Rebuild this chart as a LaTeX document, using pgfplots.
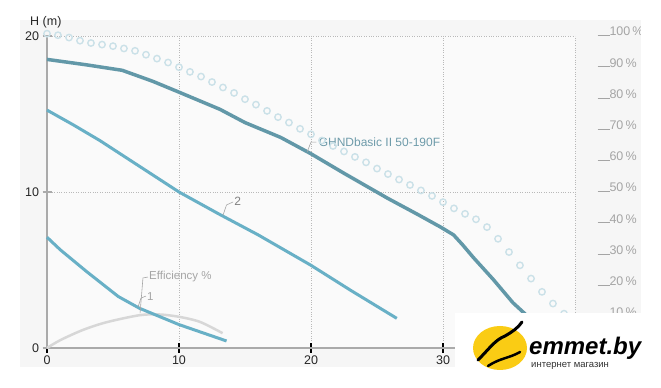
\documentclass[border=0pt]{standalone}
\usepackage{fontspec}
\setmainfont{Liberation Sans}
\usepackage{pgfplots}
\pgfplotsset{compat=1.18}
\definecolor{bgc}{RGB}{246,246,246}
\definecolor{mainc}{RGB}{98,152,168}
\definecolor{ctwo}{RGB}{104,176,198}
\definecolor{dotc}{RGB}{203,225,232}
\definecolor{effc}{RGB}{215,215,215}
\definecolor{axc}{RGB}{170,170,170}
\definecolor{gridc}{RGB}{185,185,185}
\definecolor{lblc}{RGB}{165,165,165}
\definecolor{annc}{RGB}{110,155,170}
\definecolor{logoy}{RGB}{250,204,20}

\begin{document}
\begin{tikzpicture}[x=1pt,y=1pt]
\useasboundingbox (0,0) rectangle (661,388);
\fill[bgc] (20,21) rectangle (642,368);
\fill[white!50!bgc] (47,40) rectangle (575,352);
\begin{axis}[at={(47pt,40pt)}, anchor=south west, scale only axis,
  width=528pt, height=312pt, xmin=0, xmax=40, ymin=0, ymax=20, clip=false,
  axis x line=bottom, axis y line=left, axis line style={-, axc, line width=1.6pt},
  xtick={0,10,20,30,40}, xticklabels={0,10,20,30,}, ytick={0,10,20},
  grid=major, grid style={gridc, dotted, line width=0.8pt},
  tick align=center, major tick length=9pt,
  xtick style={black, line width=1.5pt}, ytick style={axc, line width=1.5pt},
  tick label style={font=\fontsize{12.5}{14}\selectfont, text=black!85},
  /pgf/number format/assume math mode=true,
]
% efficiency dots (main curve)
\addplot[only marks, mark=o, mark size=3.2pt, mark options={draw=dotc, line width=1.4pt}] coordinates {
(0,20.15) (0.83,20.05) (1.67,19.9) (2.5,19.7) (3.33,19.55) (4.17,19.45) (5.0,19.35) (5.83,19.2)
(6.67,19.05) (7.5,18.8) (8.33,18.55) (9.17,18.3) (10.0,18.0) (10.83,17.7) (11.67,17.4) (12.5,17.05)
(13.33,16.7) (14.17,16.35) (15.0,15.95) (15.83,15.6) (16.67,15.2) (17.5,14.8) (18.33,14.45) (19.17,14.05)
(20.0,13.7) (20.83,13.3) (21.67,12.95) (22.5,12.6) (23.33,12.25) (24.17,11.9) (25.0,11.5) (25.83,11.15)
(26.67,10.8) (27.5,10.45) (28.33,10.1) (29.17,9.75) (30.0,9.35) (30.83,8.95) (31.67,8.6) (32.5,8.25)
(33.33,7.75) (34.17,7.0) (35.0,6.15) (35.83,5.3) (36.67,4.45) (37.5,3.6) (38.33,2.85) (39.17,2.2)
};
% efficiency curve
\addplot[effc, line width=2.5pt, smooth] coordinates {
(0,0) (1,0.5) (2.7,1.15) (4.5,1.65) (7,2.1) (8.5,2.15) (10,2.0) (11.6,1.67) (13.3,0.95)
};
% curve 1
\addplot[ctwo, line width=3pt] coordinates {
(0,7.1) (1,6.3) (3,4.9) (5.4,3.3) (7,2.55) (10,1.5) (13.6,0.45)
};
% curve 2
\addplot[ctwo, line width=3pt] coordinates {
(0,15.25) (2,14.3) (4,13.3) (6,12.2) (8,11.1) (10,10.0) (13,8.6) (16,7.25) (20,5.3) (23,3.7) (26.5,1.9)
};
% main curve
\addplot[mainc, line width=3.5pt] coordinates {
(0,18.5) (3,18.15) (5.7,17.8) (8,17.1) (10,16.4) (13.1,15.3) (15,14.45) (17.7,13.5) (20,12.45)
(22.5,11.2) (25.8,9.6) (28,8.6) (29.8,7.76) (30.8,7.25) (31.5,6.6) (32.3,5.8) (33.8,4.4)
(35.3,2.9) (36.2,2.2) (37.2,1.4) (38,0.8)
};
% annotations
\draw[gray!70, line width=0.6pt] (axis cs:19.7,12.55) -- (axis cs:20.0,13.2) -- (axis cs:20.4,13.2);
\node[anchor=west, inner sep=1pt, text=annc, font=\fontsize{12}{14}\selectfont] at (axis cs:20.5,13.2) {GHNDbasic II 50-190F};
\draw[gray!70, line width=0.6pt] (axis cs:13.33,8.5) -- (axis cs:13.6,9.17) -- (axis cs:14.1,9.36);
\node[anchor=west, inner sep=1pt, text=gray, font=\fontsize{12}{14}\selectfont] at (axis cs:14.1,9.4) {2};
\draw[lblc, line width=0.6pt] (axis cs:7.05,2.24) -- (axis cs:7.27,4.49) -- (axis cs:7.65,4.55);
\node[anchor=west, inner sep=1pt, text=lblc, font=\fontsize{11.5}{14}\selectfont] at (axis cs:7.65,4.55) {Efficiency \%};
\draw[lblc, line width=0.6pt] (axis cs:6.9,2.63) -- (axis cs:7.12,3.2) -- (axis cs:7.5,3.33);
\node[anchor=west, inner sep=1pt, text=lblc, font=\fontsize{11.5}{14}\selectfont] at (axis cs:7.5,3.33) {1};
\end{axis}
\begin{axis}[at={(47pt,40pt)}, anchor=south west, scale only axis,
  width=528pt, height=312pt, xmin=0, xmax=40, ymin=0, ymax=100,
  axis y line*=right, axis x line=none, y axis line style={draw=none},
  ytick={10,20,...,100}, major tick length=0pt,
  /pgf/number format/assume math mode=true,
  yticklabel={\rule{12pt}{0.7pt}\pgfmathprintnumber{\tick}\,\%},
  yticklabel style={anchor=base west, xshift=19pt, text=lblc, font=\fontsize{12.5}{14}\selectfont},
]
\end{axis}
\node[anchor=west, inner sep=0pt, font=\fontsize{12.5}{14}\selectfont, text=black!85] at (30,366) {H (m)};
% logo area
\fill[white] (455,0) rectangle (661,75);
\fill[white] (641,0) rectangle (661,388);
\fill[logoy] (500,40) ellipse (27 and 22);
\draw[black, line width=3pt, line cap=round] (478,28) .. controls (490,40) and (495,48) .. (505,52) .. controls (512,56) and (518,60) .. (522,66);
\draw[black, line width=2.5pt, line cap=round] (488,22) .. controls (500,30) and (510,30) .. (520,36);
\node[anchor=base west, inner sep=0pt, font=\fontsize{24}{26}\selectfont\bfseries\itshape] at (529,33) {emmet.by};
\node[anchor=base west, inner sep=0pt, font=\fontsize{9.5}{11}\selectfont, text=black!80] at (531,20) {интернет магазин};
\end{tikzpicture}
\end{document}
